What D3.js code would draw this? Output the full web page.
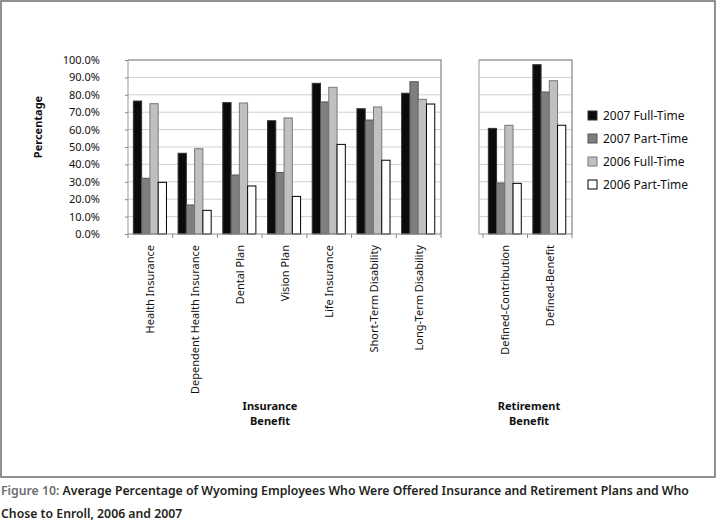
<!DOCTYPE html>
<html>
<head>
<meta charset="utf-8">
<script src="https://cdn.jsdelivr.net/npm/d3@7"></script>
<style>
  body { margin: 0; background: #fff; }
  svg { display: block; font-family: "Noto Sans", sans-serif; }
</style>
</head>
<body>
<svg id="chart" width="717" height="526"></svg>
<script>
// Data
const insuranceCats = ["Health Insurance", "Dependent Health Insurance", "Dental Plan", "Vision Plan",
  "Life Insurance", "Short-Term Disability", "Long-Term Disability"];
const retirementCats = ["Defined-Contribution", "Defined-Benefit"];
const seriesNames = ["2007 Full-Time", "2007 Part-Time", "2006 Full-Time", "2006 Part-Time"];
// values in the order insuranceCats then retirementCats
const fullTime2007 = [76.4, 46.4, 75.5, 65.1, 86.6, 72.0, 80.9, 60.7, 97.3];
const partTime2007 = [32.0, 16.7, 33.9, 35.4, 75.9, 65.5, 87.5, 29.3, 81.6];
const fullTime2006 = [74.9, 49.0, 75.3, 66.7, 84.3, 73.0, 77.4, 62.5, 88.1];
const partTime2006 = [29.7, 13.6, 27.6, 21.6, 51.5, 42.4, 74.7, 29.1, 62.5];
const yTicks = [0, 10, 20, 30, 40, 50, 60, 70, 80, 90, 100];

const allSeries = [fullTime2007, partTime2007, fullTime2006, partTime2006];
const fills = ["#0b0b0b", "#7f7f7f", "#c0c0c0", "#ffffff"];
const strokes = ["#333", "#555", "#777", "#000"];

const svg = d3.select("#chart");

// outer frame
svg.append("rect").attr("x", 1).attr("y", 1).attr("width", 714).attr("height", 476)
  .attr("fill", "none").attr("stroke", "#6d6d6d").attr("stroke-width", 1.5);

const y = d3.scaleLinear().domain([0, 100]).range([234, 60]);

function drawPanel(cats, offset, x0, x1, frameLeft) {
  const x = d3.scaleBand().domain(cats).range([x0, x1]);
  const inner = d3.scaleBand().domain(d3.range(4))
    .range([x.bandwidth() * 0.12, x.bandwidth() * 0.86]);
  const g = svg.append("g");

  // gridlines
  g.selectAll(".grid").data(yTicks.slice(1, -1)).join("line")
    .attr("x1", frameLeft).attr("x2", x1)
    .attr("y1", d => y(d)).attr("y2", d => y(d))
    .attr("stroke", "#cfcfcf").attr("stroke-width", 1);

  // frame top and right
  g.append("path")
    .attr("d", `M${frameLeft},${y(100)}H${x1}V${y(0)}`)
    .attr("fill", "none").attr("stroke", "#9a9a9a").attr("stroke-width", 1.5);
  g.append("line").attr("x1", frameLeft).attr("x2", frameLeft)
    .attr("y1", y(100)).attr("y2", y(0)).attr("stroke", "#9a9a9a");

  // bars
  cats.forEach((c, ci) => {
    allSeries.forEach((vals, si) => {
      const v = vals[offset + ci];
      g.append("rect")
        .attr("x", x(c) + inner(si))
        .attr("y", y(v))
        .attr("width", inner.bandwidth())
        .attr("height", y(0) - y(v))
        .attr("fill", fills[si])
        .attr("stroke", strokes[si])
        .attr("stroke-width", 1);
    });
  });

  // bottom axis line with boundary ticks
  g.append("line").attr("x1", frameLeft).attr("x2", x1)
    .attr("y1", y(0)).attr("y2", y(0)).attr("stroke", "#8a8a8a");
  g.selectAll(".tick").data(cats.map(c => x(c)).concat([x1])).join("line")
    .attr("x1", d => d).attr("x2", d => d)
    .attr("y1", y(0)).attr("y2", y(0) + 4)
    .attr("stroke", "#8a8a8a");

  // category labels
  g.selectAll(".cat").data(cats).join("text")
    .attr("transform", d => `translate(${x(d) + x.bandwidth() / 2 + 4},245) rotate(-90)`)
    .attr("text-anchor", "end")
    .attr("font-size", 11)
    .attr("fill", "#111")
    .text(d => d);
  return x;
}

drawPanel(insuranceCats, 0, 128, 441, 128);
drawPanel(retirementCats, insuranceCats.length, 483, 572, 479);

// y axis (left panel)
const yAxis = d3.axisLeft(y).tickValues(yTicks)
  .tickFormat(d => d.toFixed(1) + "%").tickSize(3).tickPadding(25);
const ya = svg.append("g").attr("transform", "translate(128,0)").call(yAxis);
ya.select(".domain").remove();
ya.selectAll(".tick line").attr("stroke", "#8a8a8a");
ya.selectAll("text").attr("font-size", 11).attr("fill", "#111")
  .attr("font-family", "Noto Sans, sans-serif");

// axis titles
svg.append("text").attr("transform", "translate(42,127) rotate(-90)")
  .attr("text-anchor", "middle").attr("font-size", 11).attr("font-weight", "bold")
  .attr("fill", "#111").text("Percentage");

[[270, ["Insurance", "Benefit"]], [529, ["Retirement", "Benefit"]]].forEach(([cx, lines]) => {
  lines.forEach((t, i) => {
    svg.append("text").attr("x", cx).attr("y", 410 + i * 15)
      .attr("text-anchor", "middle").attr("font-size", 11).attr("font-weight", "bold")
      .attr("fill", "#111").text(t);
  });
});

// legend
const legend = svg.append("g").attr("transform", "translate(588,0)");
seriesNames.forEach((name, i) => {
  const cy = 116 + i * 23;
  legend.append("rect").attr("x", 0).attr("y", cy - 5).attr("width", 9).attr("height", 9)
    .attr("fill", fills[i]).attr("stroke", strokes[i]);
  legend.append("text").attr("x", 15).attr("y", cy + 4)
    .attr("font-size", 12).attr("fill", "#111").text(name);
});

// caption, shrunk to fit the width the original uses
const cap1 = svg.append("text").attr("x", 1).attr("y", 495)
  .attr("font-size", 13).attr("font-weight", 600).attr("fill", "#231f20");
cap1.append("tspan").attr("fill", "#6d6e71").text("Figure 10: ");
cap1.append("tspan").text("Average Percentage of Wyoming Employees Who Were Offered Insurance and Retirement Plans and Who");
const natural = cap1.node().getComputedTextLength();
const capSize = Math.min(13, 13 * 689 / natural);
cap1.attr("font-size", capSize);
svg.append("text").attr("x", 1).attr("y", 518)
  .attr("font-size", capSize).attr("font-weight", 600).attr("fill", "#231f20")
  .text("Chose to Enroll, 2006 and 2007");
</script>
</body>
</html>
